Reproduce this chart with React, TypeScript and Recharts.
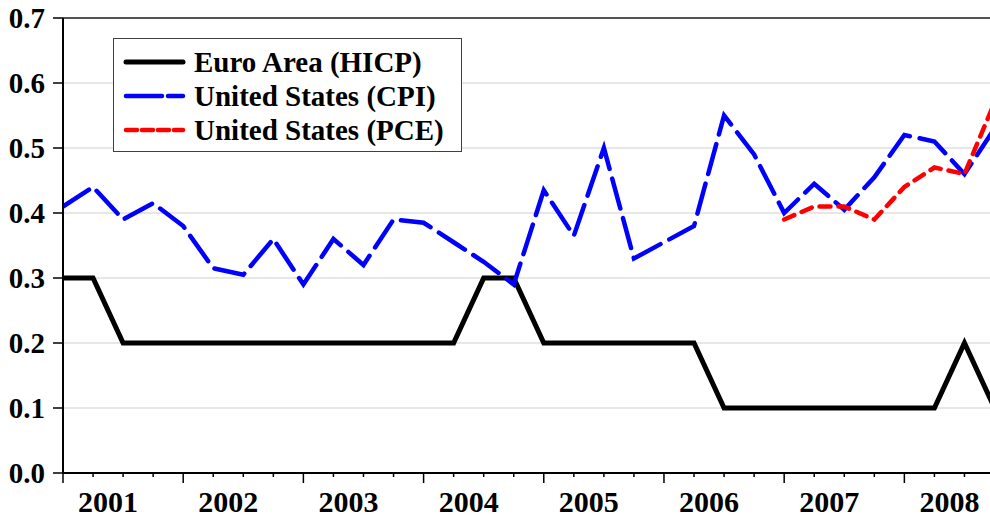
import { LineChart, Line, XAxis, YAxis, CartesianGrid, ReferenceLine, Legend } from "recharts";

// quarterly observations, 2001Q1 .. 2008Q4
const years = ["2001", "2002", "2003", "2004", "2005", "2006", "2007", "2008"];
const quarterLabels = years.flatMap((y) => ["Q1", "Q2", "Q3", "Q4"].map((q) => `${y}${q}`));

const euroHicp = [
  0.3, 0.3, 0.2, 0.2, 0.2, 0.2, 0.2, 0.2, 0.2, 0.2, 0.2, 0.2, 0.2, 0.2, 0.3, 0.3,
  0.2, 0.2, 0.2, 0.2, 0.2, 0.2, 0.1, 0.1, 0.1, 0.1, 0.1, 0.1, 0.1, 0.1, 0.2, 0.1,
];
const usCpi = [
  0.41, 0.44, 0.39, 0.415, 0.38, 0.315, 0.305, 0.36, 0.29, 0.36, 0.32, 0.39, 0.385, 0.355, 0.325, 0.29,
  0.435, 0.365, 0.5, 0.33, 0.355, 0.38, 0.55, 0.49, 0.4, 0.445, 0.405, 0.455, 0.52, 0.51, 0.46, 0.53,
];
const usPce = [
  null, null, null, null, null, null, null, null, null, null, null, null, null, null, null, null,
  null, null, null, null, null, null, null, null, 0.39, 0.41, 0.41, 0.39, 0.44, 0.47, 0.46, 0.57,
];
const yTicks = [0, 0.1, 0.2, 0.3, 0.4, 0.5, 0.6, 0.7];

const data = quarterLabels.map((label, i) => ({
  q: i,
  label,
  euro: euroHicp[i],
  cpi: usCpi[i],
  pce: usPce[i],
}));

// quarter tick marks plus year label positions (centred on each year's four quarters)
const quarterTicks = quarterLabels.map((_, i) => i).filter((i) => i <= 30);
const yearLabelTicks = years.map((_, k) => k * 4 + 1.5);
const xTicks = [...quarterTicks, ...yearLabelTicks];

const FONT = "Liberation Serif, DejaVu Serif, serif";

const series = [
  { key: "euro", name: "Euro Area (HICP)", color: "#000000", width: 5, dash: undefined },
  { key: "cpi", name: "United States (CPI)", color: "#0000ff", width: 4.5, dash: "31 10" },
  { key: "pce", name: "United States (PCE)", color: "#ff0000", width: 4.5, dash: "11 8" },
];

function XTick(props: any) {
  const { x, y, payload } = props;
  const v = payload.value;
  if (Number.isInteger(v)) {
    const len = v % 4 === 0 ? 10 : 4;
    return <line x1={x} x2={x} y1={y} y2={y + len} stroke="#000" strokeWidth={1.5} />;
  }
  return (
    <text x={x} y={y + 39} textAnchor="middle" style={{ fontFamily: FONT, fontWeight: 700, fontSize: 30 }} fill="#000">
      {years[Math.floor(v / 4)]}
    </text>
  );
}

function LegendBox(props: any) {
  const { payload = [] } = props;
  return (
    <div
      style={{
        width: 349,
        height: 114,
        boxSizing: "border-box",
        border: "1.5px solid #404040",
        background: "#fff",
        paddingTop: 6,
      }}
    >
      {payload.map((entry: any) => {
        const s = series.find((d) => d.key === entry.dataKey);
        return (
          <div key={entry.value} style={{ display: "flex", alignItems: "center", height: 34 }}>
            <svg width={80} height={12} style={{ flex: "none" }}>
              <line
                x1={12}
                x2={69}
                y1={6}
                y2={6}
                stroke={entry.color}
                strokeWidth={s?.width ?? 4}
                strokeDasharray={s?.key === "cpi" ? "36 6" : s?.key === "pce" ? "11 5" : undefined}
                strokeLinecap="round"
              />
            </svg>
            <span style={{ fontFamily: FONT, fontWeight: 700, fontSize: 29, lineHeight: "34px", color: "#000", whiteSpace: "nowrap" }}>
              {entry.value}
            </span>
          </div>
        );
      })}
    </div>
  );
}

export default function App() {
  return (
    <div style={{ position: "absolute", left: 0, top: 0, width: 990, height: 518, overflow: "hidden", background: "#fff" }}>
      <LineChart width={990} height={518} data={data} margin={{ top: 18, right: 0, bottom: 0, left: 0 }}>
        <CartesianGrid vertical={false} stroke="#cfcfcf" strokeWidth={1.2} />
        <XAxis
          dataKey="q"
          type="number"
          domain={[0, 30.85]}
          allowDataOverflow
          ticks={xTicks}
          interval={0}
          height={45}
          tickSize={0}
          tickMargin={0}
          tick={<XTick />}
          axisLine={{ stroke: "#000", strokeWidth: 2 }}
        />
        <YAxis
          domain={[0, 0.7]}
          ticks={yTicks}
          interval={0}
          width={63}
          tickSize={10}
          tickMargin={8}
          tickFormatter={(v: number) => v.toFixed(1)}
          tick={{ style: { fontFamily: FONT, fontWeight: 700, fontSize: 29 }, fill: "#000" }}
          tickLine={{ stroke: "#000", strokeWidth: 1.5 }}
          axisLine={{ stroke: "#000", strokeWidth: 2 }}
        />
        <ReferenceLine y={0.7} stroke="#222" strokeWidth={1.5} />
        {series.map((s) => (
          <Line
            key={s.key}
            type="linear"
            dataKey={s.key}
            name={s.name}
            stroke={s.color}
            strokeWidth={s.width}
            strokeDasharray={s.dash}
            strokeLinecap={s.dash ? "round" : "butt"}
            dot={false}
            activeDot={false}
            isAnimationActive={false}
          />
        ))}
        <Legend
          layout="vertical"
          align="center"
          verticalAlign="middle"
          wrapperStyle={{ left: 113, top: 38, width: 349 }}
          content={<LegendBox />}
        />
      </LineChart>
    </div>
  );
}
